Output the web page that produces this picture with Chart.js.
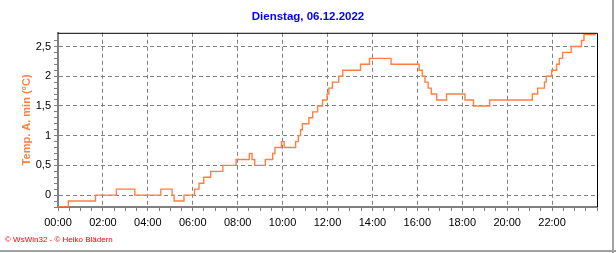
<!DOCTYPE html>
<html>
<head>
<meta charset="utf-8">
<script src="https://cdn.jsdelivr.net/npm/chart.js@4/dist/chart.umd.min.js"></script>
<style>
  html, body { margin: 0; padding: 0; background: #ffffff; }
  #wrap { width: 616px; height: 253px; position: relative; }
</style>
</head>
<body>
<div id="wrap"><canvas id="c" width="616" height="253"></canvas></div>
<script>
// ---- data (hours of day, value in °C; each value holds until next time) ----
const chartTitle = 'Dienstag, 06.12.2022';
const axisTitle = 'Temp. A. min (°C)';
const footerText = '\u00A9 WsWin32 - \u00A9 Heiko Blädern';

const times = [
  0.00, 0.46, 1.67, 2.60, 3.42, 4.58, 5.08, 5.17, 5.61, 6.08,
  6.28, 6.49, 6.80, 7.34, 7.93, 8.52, 8.64, 8.76, 9.23, 9.56,
  9.66, 9.95, 10.07, 10.58, 10.70, 10.80, 10.88, 11.17, 11.34, 11.56,
  11.78, 11.98, 12.06, 12.22, 12.50, 12.68, 13.47, 13.87, 14.83, 16.08,
  16.22, 16.34, 16.48, 16.62, 16.86, 17.07, 17.30, 18.12, 18.50, 19.22,
  21.12, 21.36, 21.66, 21.74, 21.98, 22.20, 22.32, 22.47, 22.85, 23.31,
  23.42, 23.95
];
const values = [
  -0.2, -0.1, 0.0, 0.1, 0.0, 0.1, 0.0, -0.1, 0.0, 0.1,
  0.2, 0.3, 0.4, 0.5, 0.6, 0.7, 0.6, 0.5, 0.6, 0.7,
  0.8, 0.9, 0.8, 0.9, 1.0, 1.1, 1.2, 1.3, 1.4, 1.5,
  1.6, 1.7, 1.8, 1.9, 2.0, 2.1, 2.2, 2.3, 2.2, 2.1,
  2.0, 1.9, 1.8, 1.7, 1.6, 1.6, 1.7, 1.6, 1.5, 1.6,
  1.7, 1.8, 1.9, 2.0, 2.1, 2.2, 2.3, 2.4, 2.5, 2.6,
  2.7, 2.7
];
const xMin = 0, xMax = 24, xMinorStep = 0.5, xMajorStep = 2;
const yMin = -0.2, yMax = 2.73, yMinorStep = 0.1, yMajorStep = 0.5;

const points = times.map((t, i) => ({ x: t, y: values[i] }));

const isMultiple = (v, s) => Math.abs(v / s - Math.round(v / s)) < 1e-6;
const fmtTime = v => String(Math.round(v)).padStart(2, '0') + ':00';
const fmtNum = v => String(Math.round(v * 10) / 10).replace('.', ',');
const FONT = '"Liberation Sans", Arial, sans-serif';

const framePlugin = {
  id: 'frame',
  afterDatasetsDraw(chart) {
    const { ctx, chartArea: a } = chart;
    ctx.save();
    ctx.strokeStyle = '#000000';
    ctx.lineWidth = 1;
    ctx.beginPath();
    ctx.moveTo(a.left, a.top + 0.5);
    ctx.lineTo(a.right + 0.5, a.top + 0.5);
    ctx.lineTo(a.right + 0.5, a.bottom);
    ctx.stroke();
    ctx.restore();
  },
  afterDraw(chart) {
    const { ctx, width, height } = chart;
    ctx.save();
    ctx.fillStyle = '#ff0000';
    ctx.font = '8px ' + FONT;
    ctx.textBaseline = 'middle';
    ctx.textAlign = 'left';
    ctx.fillText(footerText, 5, 240);
    ctx.fillStyle = '#a0a0a0';
    ctx.fillRect(width - 4, 0, 2, height);
    ctx.fillRect(0, height - 3, width, 2);
    ctx.restore();
  }
};

const bgPlugin = {
  id: 'bg',
  beforeDraw(chart) {
    const { ctx, width, height } = chart;
    ctx.save();
    ctx.fillStyle = '#ffffff';
    ctx.fillRect(0, 0, width, height);
    ctx.restore();
  }
};

new Chart(document.getElementById('c'), {
  type: 'line',
  data: {
    datasets: [{
      data: points,
      borderColor: '#ff8040',
      borderWidth: 1.4,
      pointRadius: 0,
      stepped: true,
      fill: false
    }]
  },
  options: {
    responsive: false,
    animation: false,
    events: [],
    layout: { padding: { left: 0, right: 0, top: 0, bottom: 22 } },
    plugins: {
      legend: { display: false },
      tooltip: { enabled: false },
      title: {
        display: true,
        text: chartTitle,
        color: '#0000ff',
        font: { family: FONT, size: 11.5, weight: 'bold' },
        padding: { top: 10, bottom: 9 }
      }
    },
    scales: {
      x: {
        type: 'linear',
        min: xMin, max: xMax,
        afterFit(s) { s.height = 24; },
        border: { display: true, color: '#808080', width: 2, dash: [4, 3] },
        grid: {
          color: c => isMultiple(c.tick.value, xMajorStep) && c.tick.value > xMin && c.tick.value < xMax ? '#808080' : 'rgba(0,0,0,0)',
          tickColor: '#808080',
          tickLength: 4,
          lineWidth: 1
        },
        ticks: {
          stepSize: xMinorStep,
          maxTicksLimit: 200,
          autoSkip: false,
          maxRotation: 0,
          padding: 5,
          color: '#000000',
          font: { family: FONT, size: 11 },
          callback: v => (isMultiple(v, xMajorStep) && v < xMax) ? fmtTime(v) : ''
        }
      },
      y: {
        type: 'linear',
        min: yMin, max: yMax,
        afterFit(s) { s.width = 58; },
        border: { display: true, color: '#808080', width: 2, dash: [4, 3] },
        grid: {
          color: c => isMultiple(c.tick.value, yMajorStep) ? '#808080' : 'rgba(0,0,0,0)',
          tickColor: c => isMultiple(c.tick.value, yMinorStep) ? '#808080' : 'rgba(0,0,0,0)',
          tickLength: 4,
          lineWidth: 1
        },
        ticks: {
          stepSize: yMinorStep,
          maxTicksLimit: 200,
          autoSkip: false,
          padding: 3,
          color: '#000000',
          font: { family: FONT, size: 11 },
          callback: v => isMultiple(v, yMajorStep) ? fmtNum(v) : ''
        },
        title: {
          display: true,
          text: axisTitle,
          color: '#ff8040',
          font: { family: FONT, size: 11, weight: 'bold' },
          padding: { top: 20, bottom: 0 }
        }
      },
      yRight: {
        type: 'linear',
        position: 'right',
        display: true,
        afterFit(s) { s.width = 19; },
        border: { display: false },
        grid: { display: false, drawOnChartArea: false },
        ticks: { display: false }
      }
    }
  },
  plugins: [bgPlugin, framePlugin]
});
</script>
</body>
</html>
